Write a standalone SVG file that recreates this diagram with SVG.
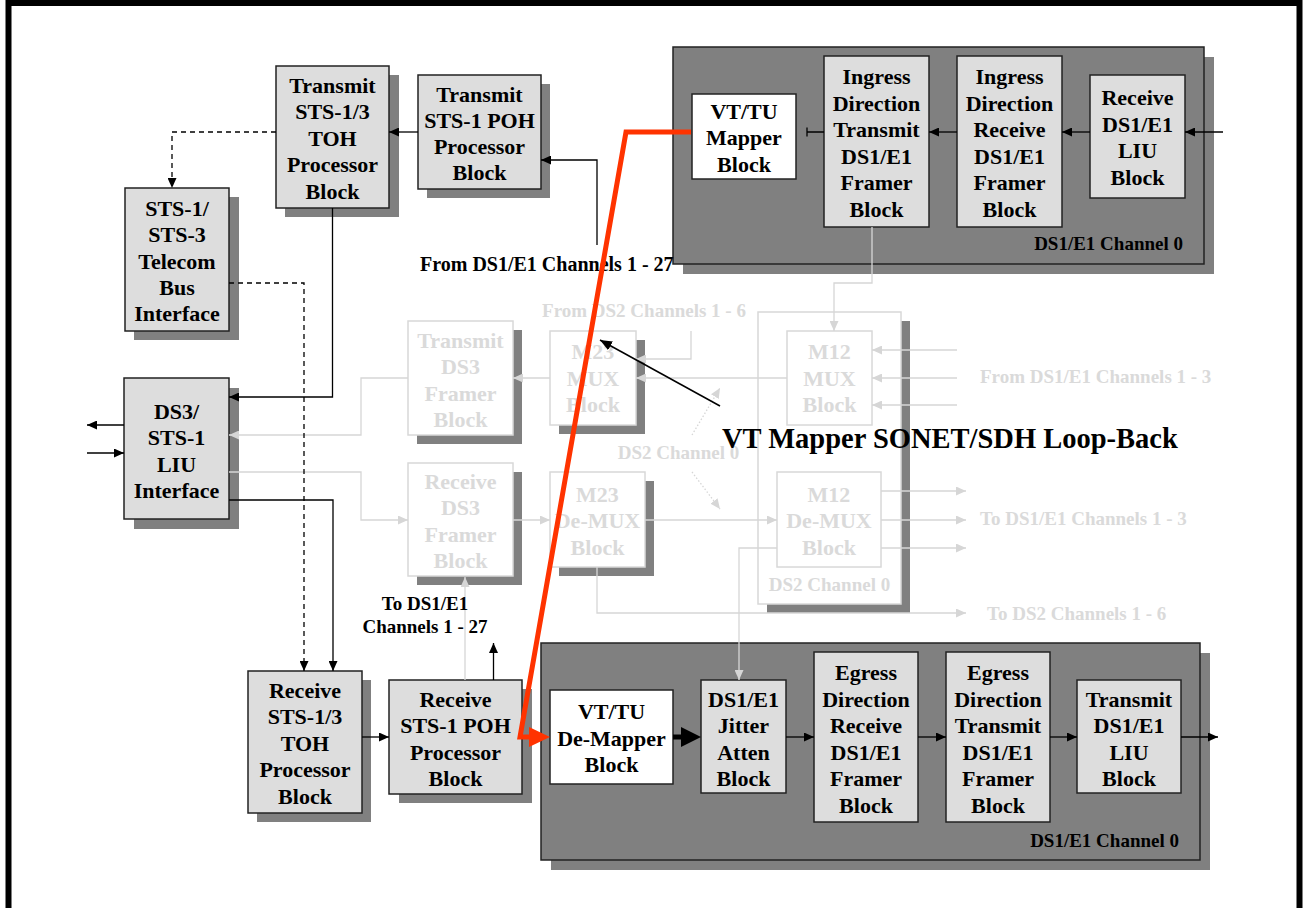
<svg xmlns="http://www.w3.org/2000/svg" width="1306" height="908" viewBox="0 0 1306 908">
<style>
.box{fill:#dddddd;stroke:#222;stroke-width:1.5}
.wbox{fill:#fff;stroke:#222;stroke-width:1.5}
.dark{fill:#808080;stroke:#222;stroke-width:1.5}
.sh{fill:#808080}
.fbox{fill:#fff;stroke:#d8d8d8;stroke-width:1.5}
text{font-family:"Liberation Serif","Times New Roman",serif;font-weight:bold}
.t{font-size:22px;text-anchor:middle;fill:#000}
.lbl{font-size:19px;fill:#000}
text.ft{fill:#dadada}
.c{fill:none;stroke:#000;stroke-width:1.3}
.fc{fill:none;stroke:#d6d6d6;stroke-width:1.3}
.dash{stroke-dasharray:5,4}
.dot{stroke-dasharray:1.5,2}
</style>
<defs>
<marker id="a" viewBox="0 0 10 9" refX="10" refY="4.5" markerWidth="10" markerHeight="9" orient="auto" markerUnits="userSpaceOnUse"><path d="M0,0L10,4.5L0,9z" fill="#000"/></marker>
<marker id="fa" viewBox="0 0 10 9" refX="10" refY="4.5" markerWidth="10" markerHeight="9" orient="auto" markerUnits="userSpaceOnUse"><path d="M0,0L10,4.5L0,9z" fill="#d6d6d6"/></marker>
<marker id="ba" viewBox="0 0 12 10" refX="12" refY="5" markerWidth="12" markerHeight="10" orient="auto" markerUnits="userSpaceOnUse"><path d="M0,0L12,5L0,10z" fill="#000"/></marker>
</defs>
<rect x="0" y="0" width="1306" height="908" fill="#fff"/>
<path d="M8.5,1000V3H1299.5V1000" fill="none" stroke="#000" stroke-width="6"/>

<!-- faded middle section -->
<g id="ds2_channel0">
<rect class="sh" x="767" y="321" width="143" height="292"/>
<rect class="fbox" x="758" y="312" width="143" height="292"/>
<text class="lbl ft" x="829.5" y="591" text-anchor="middle">DS2 Channel 0</text>
</g>
<g id="tx_ds3">
<rect class="sh" x="417" y="330" width="105" height="114"/>
<rect class="fbox" x="408" y="321" width="105" height="114"/>
<text class="t ft" x="460.5" y="347.5">Transmit</text>
<text class="t ft" x="460.5" y="374">DS3</text>
<text class="t ft" x="460.5" y="400.5">Framer</text>
<text class="t ft" x="460.5" y="427">Block</text>
</g>
<g id="m23_mux">
<rect class="sh" x="559" y="340" width="86" height="94"/>
<rect class="fbox" x="550" y="331" width="86" height="94"/>
<text class="t ft" x="593" y="359">M23</text>
<text class="t ft" x="593" y="385.5">MUX</text>
<text class="t ft" x="593" y="412">Block</text>
</g>
<g id="rx_ds3">
<rect class="sh" x="417" y="472" width="105" height="113"/>
<rect class="fbox" x="408" y="463" width="105" height="113"/>
<text class="t ft" x="460.5" y="488.5">Receive</text>
<text class="t ft" x="460.5" y="515">DS3</text>
<text class="t ft" x="460.5" y="541.5">Framer</text>
<text class="t ft" x="460.5" y="568">Block</text>
</g>
<g id="m23_demux">
<rect class="sh" x="559" y="481" width="95" height="95"/>
<rect class="fbox" x="550" y="472" width="95" height="95"/>
<text class="t ft" x="597.5" y="501.5">M23</text>
<text class="t ft" x="597.5" y="528">De-MUX</text>
<text class="t ft" x="597.5" y="554.5">Block</text>
</g>
<g id="m12_mux">
<rect class="fbox" x="787" y="331" width="85" height="94"/>
<text class="t ft" x="829.5" y="359">M12</text>
<text class="t ft" x="829.5" y="385.5">MUX</text>
<text class="t ft" x="829.5" y="412">Block</text>
</g>
<g id="m12_demux">
<rect class="fbox" x="777" y="472" width="104" height="95"/>
<text class="t ft" x="829" y="501.5">M12</text>
<text class="t ft" x="829" y="528">De-MUX</text>
<text class="t ft" x="829" y="554.5">Block</text>
</g>

<!-- left column -->
<g id="tx_toh">
<rect class="sh" x="285" y="75" width="114" height="142"/>
<rect class="box" x="276" y="66" width="113" height="142"/>
<text class="t" x="332.5" y="92.5">Transmit</text>
<text class="t" x="332.5" y="119">STS-1/3</text>
<text class="t" x="332.5" y="145.5">TOH</text>
<text class="t" x="332.5" y="172">Processor</text>
<text class="t" x="332.5" y="198.5">Block</text>
</g>
<g id="tx_poh">
<rect class="sh" x="427" y="84" width="123" height="114"/>
<rect class="box" x="418" y="75" width="123" height="114"/>
<text class="t" x="479.5" y="101.5">Transmit</text>
<text class="t" x="479.5" y="127.5">STS-1 POH</text>
<text class="t" x="479.5" y="154">Processor</text>
<text class="t" x="479.5" y="180">Block</text>
</g>
<g id="telecom_bus">
<rect class="sh" x="134" y="197" width="105" height="143"/>
<rect class="box" x="125" y="188" width="104" height="143"/>
<text class="t" x="177" y="215.5">STS-1/</text>
<text class="t" x="177" y="242">STS-3</text>
<text class="t" x="177" y="268.5">Telecom</text>
<text class="t" x="177" y="294.5">Bus</text>
<text class="t" x="177" y="320.5">Interface</text>
</g>
<g id="ds3_liu">
<rect class="sh" x="134" y="388" width="105" height="141"/>
<rect class="box" x="124" y="378" width="105" height="141"/>
<text class="t" x="176.5" y="418.5">DS3/</text>
<text class="t" x="176.5" y="445">STS-1</text>
<text class="t" x="176.5" y="471.5">LIU</text>
<text class="t" x="176.5" y="498">Interface</text>
</g>
<g id="rx_toh">
<rect class="sh" x="257" y="680" width="114" height="142"/>
<rect class="box" x="248" y="671" width="114" height="142"/>
<text class="t" x="305" y="697.5">Receive</text>
<text class="t" x="305" y="724">STS-1/3</text>
<text class="t" x="305" y="750.5">TOH</text>
<text class="t" x="305" y="777">Processor</text>
<text class="t" x="305" y="803.5">Block</text>
</g>
<g id="rx_poh">
<rect class="sh" x="399" y="689" width="133" height="114"/>
<rect class="box" x="389" y="680" width="133" height="114"/>
<text class="t" x="455.5" y="707">Receive</text>
<text class="t" x="455.5" y="733">STS-1 POH</text>
<text class="t" x="455.5" y="759.5">Processor</text>
<text class="t" x="455.5" y="785.5">Block</text>
</g>

<!-- top channel 0 -->
<g id="ingress_channel0">
<rect class="sh" x="683" y="57" width="531" height="217"/>
<rect class="dark" x="673" y="47" width="531" height="217"/>
<text class="lbl" x="1183" y="249.5" text-anchor="end">DS1/E1 Channel 0</text>
</g>
<g id="vt_mapper">
<rect class="wbox" x="692" y="94" width="104" height="85"/>
<text class="t" x="744" y="118.5">VT/TU</text>
<text class="t" x="744" y="145">Mapper</text>
<text class="t" x="744" y="171.5">Block</text>
</g>
<g id="ingress_tx_framer">
<rect class="box" x="824" y="56" width="105" height="171"/>
<text class="t" x="876.5" y="84">Ingress</text>
<text class="t" x="876.5" y="110.5">Direction</text>
<text class="t" x="876.5" y="137">Transmit</text>
<text class="t" x="876.5" y="163.5">DS1/E1</text>
<text class="t" x="876.5" y="190">Framer</text>
<text class="t" x="876.5" y="216.5">Block</text>
</g>
<g id="ingress_rx_framer">
<rect class="box" x="957" y="56" width="105" height="171"/>
<text class="t" x="1009.5" y="84">Ingress</text>
<text class="t" x="1009.5" y="110.5">Direction</text>
<text class="t" x="1009.5" y="137">Receive</text>
<text class="t" x="1009.5" y="163.5">DS1/E1</text>
<text class="t" x="1009.5" y="190">Framer</text>
<text class="t" x="1009.5" y="216.5">Block</text>
</g>
<g id="rx_ds1_liu">
<rect class="box" x="1090" y="75" width="95" height="123"/>
<text class="t" x="1137.5" y="105">Receive</text>
<text class="t" x="1137.5" y="131.5">DS1/E1</text>
<text class="t" x="1137.5" y="158">LIU</text>
<text class="t" x="1137.5" y="184.5">Block</text>
</g>

<!-- bottom channel 0 -->
<g id="egress_channel0">
<rect class="sh" x="551" y="653" width="659" height="217"/>
<rect class="dark" x="541" y="643" width="659" height="217"/>
<text class="lbl" x="1179" y="846.5" text-anchor="end">DS1/E1 Channel 0</text>
</g>
<g id="vt_demapper">
<rect class="wbox" x="550" y="690" width="123" height="94"/>
<text class="t" x="611.5" y="719">VT/TU</text>
<text class="t" x="611.5" y="745.5">De-Mapper</text>
<text class="t" x="611.5" y="772">Block</text>
</g>
<g id="jitter_atten">
<rect class="box" x="701" y="680" width="85" height="113"/>
<text class="t" x="743.5" y="707">DS1/E1</text>
<text class="t" x="743.5" y="733">Jitter</text>
<text class="t" x="743.5" y="759.5">Atten</text>
<text class="t" x="743.5" y="785.5">Block</text>
</g>
<g id="egress_rx_framer">
<rect class="box" x="814" y="652" width="104" height="170"/>
<text class="t" x="866" y="680">Egress</text>
<text class="t" x="866" y="706.5">Direction</text>
<text class="t" x="866" y="733">Receive</text>
<text class="t" x="866" y="759.5">DS1/E1</text>
<text class="t" x="866" y="786">Framer</text>
<text class="t" x="866" y="812.5">Block</text>
</g>
<g id="egress_tx_framer">
<rect class="box" x="946" y="652" width="104" height="170"/>
<text class="t" x="998" y="680">Egress</text>
<text class="t" x="998" y="706.5">Direction</text>
<text class="t" x="998" y="733">Transmit</text>
<text class="t" x="998" y="759.5">DS1/E1</text>
<text class="t" x="998" y="786">Framer</text>
<text class="t" x="998" y="812.5">Block</text>
</g>
<g id="tx_ds1_liu">
<rect class="box" x="1077" y="680" width="104" height="113"/>
<text class="t" x="1129" y="707">Transmit</text>
<text class="t" x="1129" y="733">DS1/E1</text>
<text class="t" x="1129" y="759.5">LIU</text>
<text class="t" x="1129" y="785.5">Block</text>
</g>

<!-- connectors -->
<g id="connectors">
<g class="fc">
<path d="M872,227V283H834V331" marker-end="url(#fa)"/>
<path d="M691,331V359H636" marker-end="url(#fa)"/>
<path d="M787,378H636" marker-end="url(#fa)"/>
<path d="M550,378H513" marker-end="url(#fa)"/>
<path d="M408,378H361V435H229" marker-end="url(#fa)"/>
<path d="M229,472H361V520H408" marker-end="url(#fa)"/>
<path d="M513,520H550" marker-end="url(#fa)"/>
<path d="M645,520H777" marker-end="url(#fa)"/>
<path d="M957,350H872" marker-end="url(#fa)"/>
<path d="M957,378H872" marker-end="url(#fa)"/>
<path d="M957,405H872" marker-end="url(#fa)"/>
<path d="M881,491H966" marker-end="url(#fa)"/>
<path d="M881,520H966" marker-end="url(#fa)"/>
<path d="M881,548H966" marker-end="url(#fa)"/>
<path d="M597,567V613H966" marker-end="url(#fa)"/>
<path d="M777,548H739V680" marker-end="url(#fa)"/>
<path d="M465,680V577" marker-end="url(#fa)"/>
<path class="dot" d="M692,435L720,388" marker-end="url(#fa)"/>
<path class="dot" d="M692,472L720,509" marker-end="url(#fa)"/>
</g>
<g class="c">
<path d="M418,132H389" marker-end="url(#a)"/>
<path d="M597,245V160H541" marker-end="url(#a)"/>
<path class="dash" d="M276,132H172V188" marker-end="url(#a)"/>
<path class="dash" d="M229,283H304V671" marker-end="url(#a)"/>
<path d="M332.5,208V397H229" marker-end="url(#a)"/>
<path d="M229,500H333V671" marker-end="url(#a)"/>
<path d="M124,425H87" marker-end="url(#a)"/>
<path d="M87,453H124" marker-end="url(#a)"/>
<path d="M362,737H389" marker-end="url(#a)"/>
<path d="M493.5,680V643" marker-end="url(#a)"/>
<path d="M1223,132H1185" marker-end="url(#a)"/>
<path d="M1090,132H1062" marker-end="url(#a)"/>
<path d="M957,132H929" marker-end="url(#a)"/>
<path d="M824,132H807M807,127.5V136.5"/>
<path d="M786,737H814" marker-end="url(#a)"/>
<path d="M918,737H946" marker-end="url(#a)"/>
<path d="M1050,737H1077" marker-end="url(#a)"/>
<path d="M1181,737H1218" marker-end="url(#a)"/>
</g>
<path d="M673,737H683" stroke="#000" stroke-width="5" fill="none"/>
<polygon points="681,727 701,737 681,747" fill="#000"/>
</g>

<!-- labels -->
<text class="lbl" x="420" y="271" font-size="20" style="font-size:20px">From DS1/E1 Channels 1 - 27</text>
<text class="lbl" x="425" y="609.5" text-anchor="middle">To DS1/E1</text>
<text class="lbl" x="425" y="633" text-anchor="middle">Channels 1 - 27</text>
<text class="lbl ft" x="644" y="316.5" text-anchor="middle">From DS2 Channels 1 - 6</text>
<text class="lbl ft" x="678.5" y="458.5" text-anchor="middle">DS2 Channel 0</text>
<text class="lbl ft" x="980" y="383">From DS1/E1 Channels 1 - 3</text>
<text class="lbl ft" x="980" y="525">To DS1/E1 Channels 1 - 3</text>
<text class="lbl ft" x="987" y="620">To DS2 Channels 1 - 6</text>

<!-- loop-back annotation -->
<g id="loopback">
<polyline points="691,132 626,132 520,737 531,737" fill="none" stroke="#ff3300" stroke-width="5"/>
<polygon points="529,727 550,737 529,747" fill="#ff3300"/>
<path d="M720,406L600,340" fill="none" stroke="#000" stroke-width="1.5" marker-end="url(#ba)"/>
<text x="722" y="447.5" font-size="28.5" fill="#000">VT Mapper SONET/SDH Loop-Back</text>
</g>
</svg>
